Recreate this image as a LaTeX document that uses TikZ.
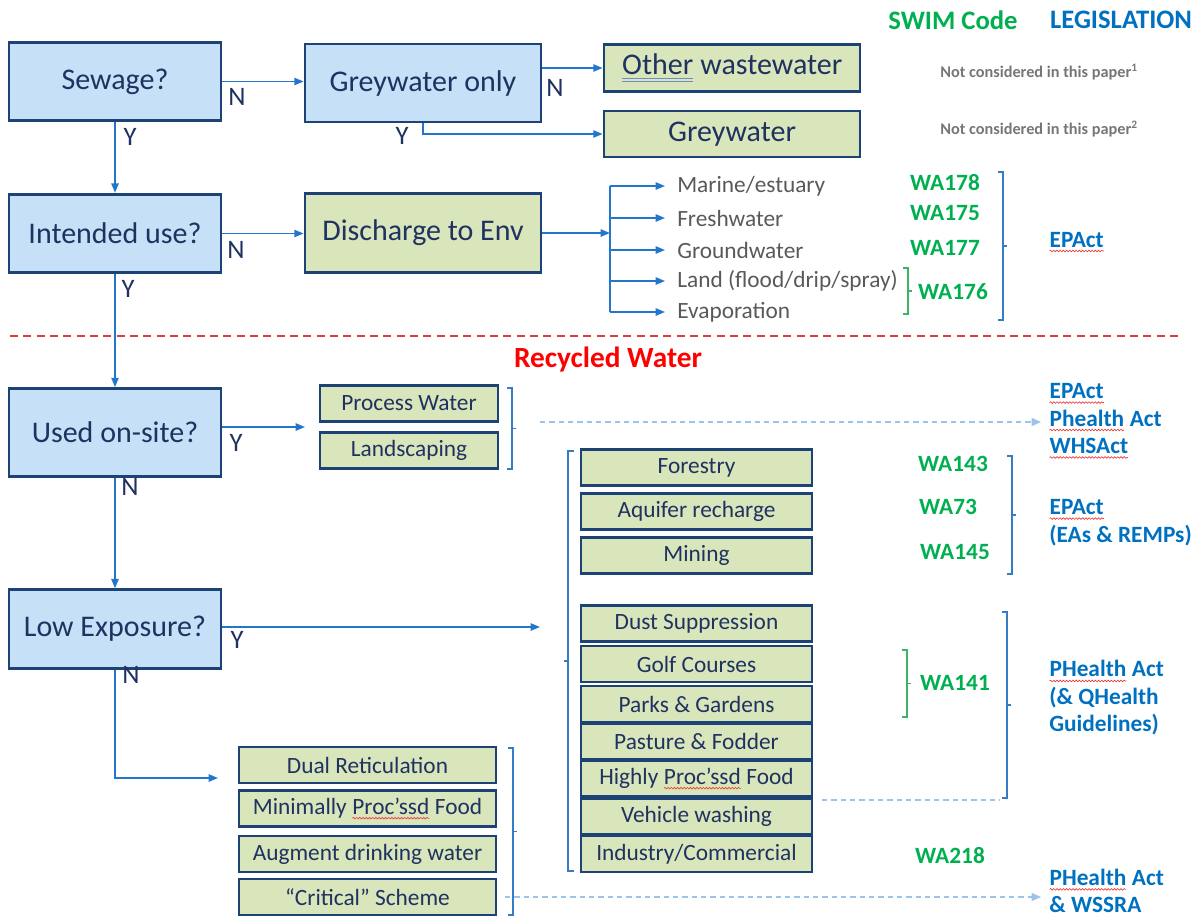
\documentclass[tikz,border=0pt]{standalone}
\usepackage{fontspec}
\setmainfont{Carlito}
\usetikzlibrary{positioning,arrows.meta,decorations.pathmorphing}
\definecolor{qBlue}{RGB}{198,224,248}
\definecolor{oGreen}{RGB}{217,229,187}
\definecolor{boxEdge}{RGB}{28,66,118}
\definecolor{boxText}{RGB}{31,50,96}
\definecolor{arrowBlue}{RGB}{36,118,204}
\definecolor{brakBlue}{RGB}{52,125,196}
\definecolor{dashBlue}{RGB}{157,195,235}
\definecolor{swimGreen}{RGB}{0,176,80}
\definecolor{brakGreen}{RGB}{60,180,100}
\definecolor{legBlue}{RGB}{0,112,192}
\definecolor{grayText}{RGB}{89,89,89}
\definecolor{noteGray}{RGB}{118,118,118}
\definecolor{recRed}{RGB}{255,0,0}
\definecolor{cutRed}{RGB}{222,60,60}
\definecolor{spellRed}{RGB}{235,60,60}
\definecolor{gramBlue}{RGB}{110,140,200}
\tikzset{bare/.style={shape=rectangle,draw=none,fill=none,minimum width=0pt,minimum height=0pt,
  inner sep=0pt,outer sep=0pt,anchor=base}}
% spell-check marks as they show in the source
\newcommand{\spellwave}[1]{\tikz[baseline=(sw.base)]{\node[bare] (sw) {#1};
  \draw[spellRed,line width=0.5pt,decorate,decoration={snake,amplitude=0.6pt,segment length=2.4pt}]
    ([yshift=-3pt]sw.base west) -- ([yshift=-3pt]sw.base east);}}
\newcommand{\gramline}[1]{\tikz[baseline=(gl.base)]{\node[bare] (gl) {#1};
  \draw[gramBlue,line width=0.6pt] ([yshift=-3pt]gl.base west) -- ([yshift=-3pt]gl.base east);
  \draw[gramBlue,line width=0.6pt] ([yshift=-5pt]gl.base west) -- ([yshift=-5pt]gl.base east);}}

\begin{document}
\begin{tikzpicture}[x=0.75pt,y=-0.75pt,
    qbox/.style={draw=boxEdge,line width=2.1pt,fill=qBlue,text=boxText,inner sep=0pt,
      minimum width=159pt,minimum height=59pt,font=\fontsize{22.5}{27}\selectfont},
    obox/.style={qbox,fill=oGreen},
    ubox/.style={draw=boxEdge,line width=2pt,fill=oGreen,text=boxText,inner sep=0pt,
      minimum height=27pt,font=\fontsize{17.5}{21}\selectfont},
    flow/.style={arrowBlue,line width=1.1pt,-{Triangle[length=7pt,width=5.5pt]}},
    link/.style={dashBlue,line width=1.1pt,dash pattern=on 4pt off 3pt},
    yn/.style={text=boxText,font=\fontsize{20}{24}\selectfont,inner sep=0pt},
    dest/.style={text=grayText,font=\fontsize{17.5}{21}\selectfont,anchor=west,inner sep=0pt},
    swim/.style={text=swimGreen,font=\fontsize{17.5}{21}\selectfont\bfseries,inner sep=0pt},
    leg/.style={text=legBlue,font=\fontsize{17.5}{20.6}\selectfont\bfseries,anchor=west,align=left,inner sep=0pt},
    note/.style={text=noteGray,font=\fontsize{12.2}{14}\selectfont\bfseries,inner sep=0pt}]
  \useasboundingbox (0,0) rectangle (1202,918);

  % headings
  \node[swim,font=\fontsize{20}{24}\selectfont\bfseries] (hswim) at (953,20) {SWIM Code};
  \node[leg,anchor=center,font=\fontsize{20}{24}\selectfont\bfseries] (hleg) at (1121,20) {LEGISLATION};

  % questions
  \node[qbox] (sewage) at (115,81.5) {Sewage?};
  \node[qbox,minimum width=177pt,minimum height=58.5pt] (grey) at (423,83) {Greywater only};
  \node[qbox] (intended) at (115,233.5) {Intended use?};
  \node[obox,minimum width=177pt] (discharge) at (423,233) {Discharge to Env};
  \node[qbox,minimum height=66pt] (onsite) at (115,432.5) {Used on-site?};
  \node[qbox] (lowexp) at (115,629) {Low Exposure?};

  % wastewater not covered
  \node[obox,minimum width=192pt,minimum height=35pt] (otherww) at (732,68) {\gramline{Other} wastewater};
  \node[obox,minimum width=192pt,minimum height=34.5pt] (greyww) at (732,134) {Greywater};
  \node[note] (note1) at (1039,72) {Not considered in this paper\textsuperscript{1}};
  \node[note] (note2) at (1039,129) {Not considered in this paper\textsuperscript{2}};

  \draw[flow] (sewage.east) -- (sewage.east -| grey.west);
  \draw[flow] (grey.east |- otherww.west) -- (otherww.west);
  \draw[flow] (grey.south) |- (greyww.west);
  \draw[flow] (sewage.south) -- (intended.north);
  \draw[flow] (intended.east) -- (intended.east -| discharge.west);
  \node[yn] (n1) at (237,97) {N};
  \node[yn] (y1) at (130,137) {Y};
  \node[yn] (n2) at (555,88) {N};
  \node[yn] (y2) at (402,136) {Y};
  \node[yn] (n3) at (236,250) {N};

  % discharge to environment
  \coordinate (split) at (610,233);
  \draw[flow] (discharge.east) -- (split);
  \foreach \y/\lbl [count=\i] in {186/Marine\slash estuary,218/Freshwater,250/Groundwater,
      281/Land (flood\slash drip\slash spray),312/Evaporation} {
    \node[dest] (env\i) at (677,\y) {\lbl};
    \draw[flow,shorten >=9pt] (env\i.west -| split) -- (env\i.west);
  }
  \draw[arrowBlue,line width=1.1pt] (env1.west -| split) -- (env5.west -| split);
  \node[swim] (wa178) at (945,183) {WA178};
  \node[swim] (wa175) at (945,213) {WA175};
  \node[swim] (wa177) at (945,248) {WA177};
  \node[swim] (wa176) at (953,292) {WA176};
  \node[leg] (legEnv) at (1049,242) {\spellwave{EPAct}};

  % recycled water
  \draw[cutRed,line width=1.1pt,dash pattern=on 6pt off 4pt] (10,336) -- (1180,336);
  \node[text=recRed,font=\fontsize{22}{26}\selectfont\bfseries,inner sep=0pt] (recycled) at (608,360) {Recycled Water};

  \draw[flow] (intended.south) -- (onsite.north);
  \node[yn] (y3) at (128,289) {Y};
  \node[ubox,minimum width=133.5pt] (process) at (409,403.5) {Process Water};
  \node[ubox,minimum width=133.5pt] (landscape) at (409,450.5) {Landscaping};
  \coordinate (siteY) at (305,427);
  \draw[flow] (onsite.east |- siteY) -- (siteY);
  \node[yn] (y4) at (236,443) {Y};
  \node[leg] (legSite) at (1049,421) {\spellwave{EPAct}\\\spellwave{Phealth} Act\\\spellwave{WHSAct}};
  \coordinate (siteLink) at (540,422);
  \draw[link,-{Triangle[length=7pt,width=6pt]},shorten >=6pt] (siteLink) -- (siteLink -| legSite.west);

  \draw[flow] (onsite.south) -- (lowexp.north);
  \node[yn] (n4) at (130,487) {N};

  % low exposure uses
  \foreach \y/\lbl [count=\i] in {467.5/Forestry,511.5/Aquifer recharge,555.5/Mining,
      623.5/Dust Suppression,664/Golf Courses,704/Parks \& Gardens,741.5/Pasture \& Fodder,
      778.5/Highly \spellwave{Proc’ssd} Food,816.5/Vehicle washing,854/Industry\slash Commercial}
    \node[ubox,minimum width=173.25pt] (use\i) at (696.5,\y) {\lbl};
  \coordinate (lowY) at (540,627);
  \draw[flow] (lowexp.east |- lowY) -- (lowY);
  \node[yn] (y5) at (237,640) {Y};
  \node[swim] (wa143) at (953,464) {WA143};
  \node[swim] (wa73) at (948,507) {WA73};
  \node[swim] (wa145) at (955,552) {WA145};
  \node[swim] (wa141) at (955,683) {WA141};
  \node[swim] (wa218) at (950,856) {WA218};
  \node[leg] (legEA) at (1049,522.5) {\spellwave{EPAct}\\(EAs \& REMPs)};
  \node[leg] (legPH) at (1049,698) {\spellwave{PHealth} Act\\(\& QHealth\\Guidelines)};
  \coordinate (vehA) at (822,800);
  \coordinate (vehB) at (1000,800);
  \draw[link] (vehA) -- (vehB);

  % higher exposure uses
  \foreach \y/\lbl [count=\i] in {765/Dual Reticulation,808.5/Minimally \spellwave{Proc’ssd} Food,
      854/Augment drinking water,897/“Critical” Scheme}
    \node[ubox,minimum width=192.75pt] (crit\i) at (367.5,\y) {\lbl};
  \coordinate (lowN) at (218,778);
  \draw[flow] (lowexp.south) |- (lowN);
  \node[yn] (n5) at (131,675) {N};
  \node[leg] (legWS) at (1049,891) {\spellwave{PHealth} Act\\\& WSSRA};
  \coordinate (critLink) at (505,897);
  \draw[link,-{Triangle[length=7pt,width=6pt]},shorten >=6pt] (critLink) -- (critLink -| legWS.west);

  % brackets
  \foreach \x/\ya/\yb/\col in {908/268/314/brakGreen,1003/172/320/brakBlue,512/388/469/brakBlue,
      1012/456/574/brakBlue,907/650/717/brakGreen,1007/612/798/brakBlue,513/748/915/brakBlue} {
    \draw[\col,line width=1.1pt] (\x-5,\ya) -- (\x,\ya) -- (\x,\yb) -- (\x-5,\yb);
    \draw[\col,line width=1.1pt] ({\x},{(\ya+\yb)/2}) -- ++(4,0);
  }
  \draw[brakBlue,line width=1.1pt] (574,451) -- (568,451) -- (568,871) -- (574,871);
  \draw[brakBlue,line width=1.1pt] (568,661) -- ++(-4,0);
\end{tikzpicture}
\end{document}
